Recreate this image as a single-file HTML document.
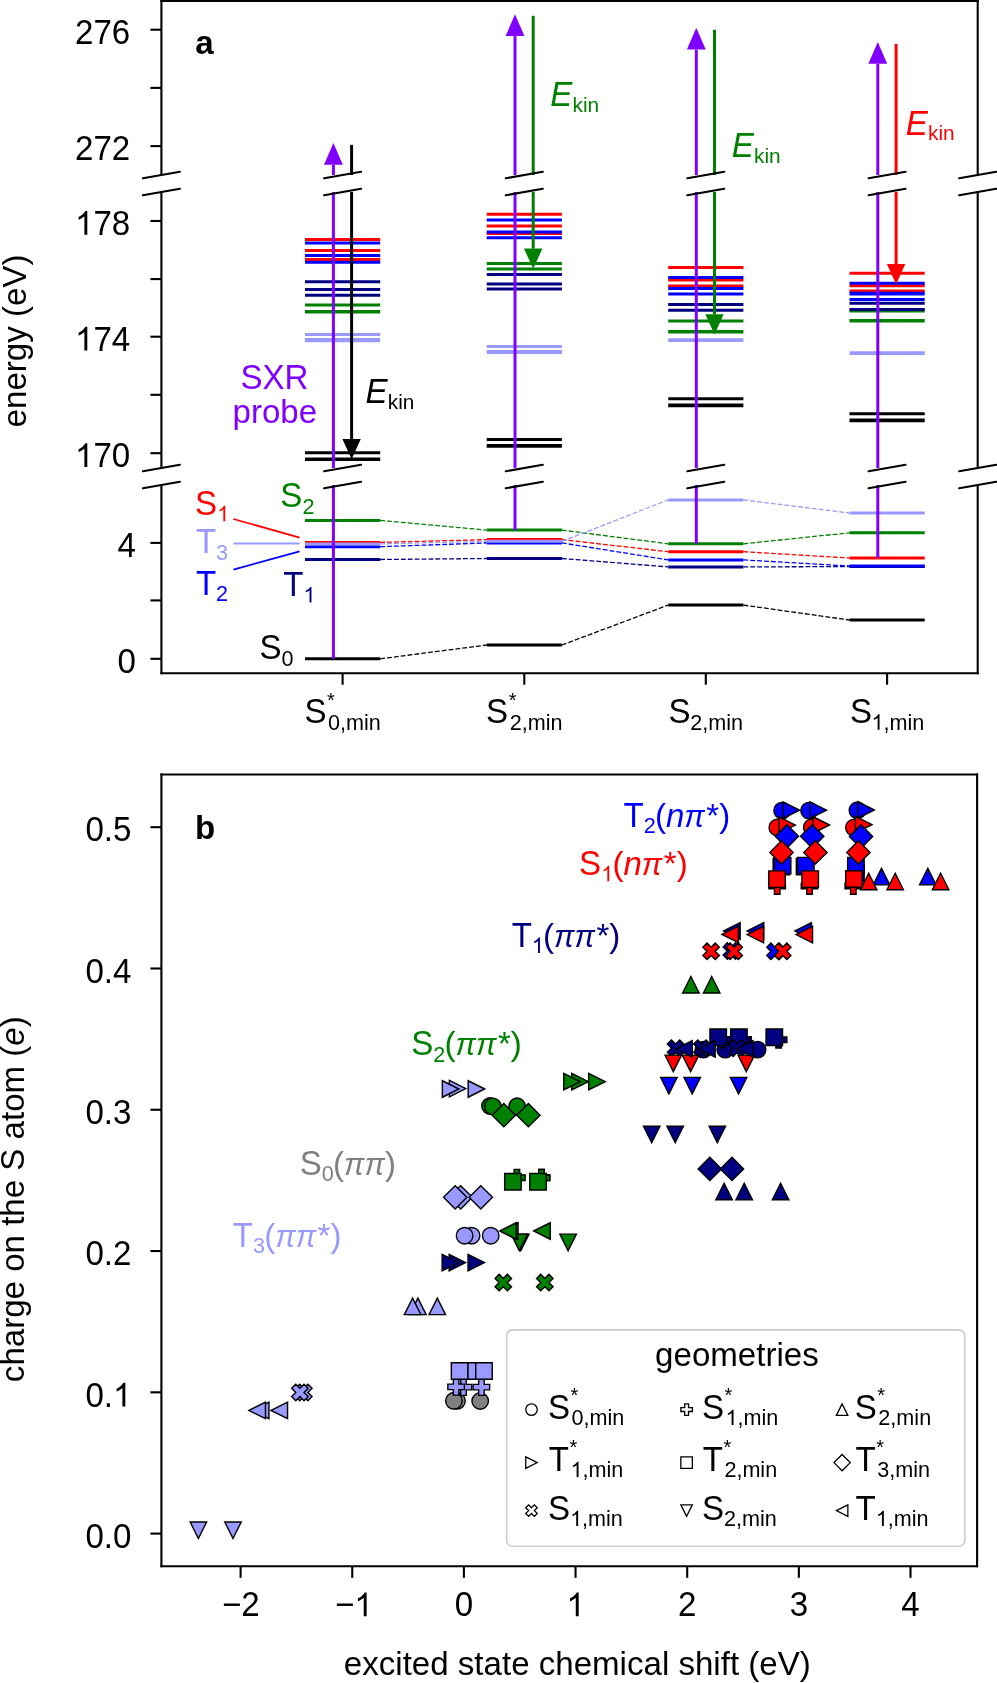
<!DOCTYPE html>
<html><head><meta charset="utf-8"><title>figure</title>
<style>
html,body{margin:0;padding:0;background:#fff;}
svg{display:block;will-change:transform;font-family:"Liberation Sans",sans-serif;font-size:33.1px;}
</style></head>
<body>
<svg width="997" height="1683" viewBox="0 0 997 1683">
<rect width="997" height="1683" fill="#fff"/>
<line x1="380.2" y1="658.8" x2="486.7" y2="645" stroke="#000000" stroke-width="1.3" stroke-dasharray="4.8,2.1"/>
<line x1="561.9" y1="645" x2="668.2" y2="605.1" stroke="#000000" stroke-width="1.3" stroke-dasharray="4.8,2.1"/>
<line x1="743.4" y1="605.1" x2="849.5" y2="620" stroke="#000000" stroke-width="1.3" stroke-dasharray="4.8,2.1"/>
<line x1="380.2" y1="559.5" x2="486.7" y2="558.5" stroke="#000080" stroke-width="1.3" stroke-dasharray="4.8,2.1"/>
<line x1="561.9" y1="558.5" x2="668.2" y2="566.9" stroke="#000080" stroke-width="1.3" stroke-dasharray="4.8,2.1"/>
<line x1="743.4" y1="566.9" x2="849.5" y2="566.6" stroke="#000080" stroke-width="1.3" stroke-dasharray="4.8,2.1"/>
<line x1="380.2" y1="542.4" x2="486.7" y2="539.6" stroke="#ff0000" stroke-width="1.3" stroke-dasharray="4.8,2.1"/>
<line x1="561.9" y1="539.6" x2="668.2" y2="551.7" stroke="#ff0000" stroke-width="1.3" stroke-dasharray="4.8,2.1"/>
<line x1="743.4" y1="551.7" x2="849.5" y2="558" stroke="#ff0000" stroke-width="1.3" stroke-dasharray="4.8,2.1"/>
<line x1="380.2" y1="520.4" x2="486.7" y2="530.1" stroke="#008000" stroke-width="1.3" stroke-dasharray="4.8,2.1"/>
<line x1="561.9" y1="530.1" x2="668.2" y2="543.8" stroke="#008000" stroke-width="1.3" stroke-dasharray="4.8,2.1"/>
<line x1="743.4" y1="543.8" x2="849.5" y2="532.8" stroke="#008000" stroke-width="1.3" stroke-dasharray="4.8,2.1"/>
<line x1="380.2" y1="546.7" x2="486.7" y2="542.9" stroke="#0000ff" stroke-width="1.3" stroke-dasharray="4.8,2.1"/>
<line x1="561.9" y1="542.9" x2="668.2" y2="559.9" stroke="#0000ff" stroke-width="1.3" stroke-dasharray="4.8,2.1"/>
<line x1="743.4" y1="559.9" x2="849.5" y2="566" stroke="#0000ff" stroke-width="1.3" stroke-dasharray="4.8,2.1"/>
<line x1="380.2" y1="543.9" x2="486.7" y2="541.3" stroke="#9999ff" stroke-width="1.3" stroke-dasharray="4.8,2.1"/>
<line x1="561.9" y1="541.3" x2="668.2" y2="499.9" stroke="#9999ff" stroke-width="1.3" stroke-dasharray="4.8,2.1"/>
<line x1="743.4" y1="499.9" x2="849.5" y2="513" stroke="#9999ff" stroke-width="1.3" stroke-dasharray="4.8,2.1"/>
<line x1="305" y1="658.8" x2="380.2" y2="658.8" stroke="#000000" stroke-width="3"/>
<line x1="486.7" y1="645" x2="561.9" y2="645" stroke="#000000" stroke-width="3"/>
<line x1="668.2" y1="605.1" x2="743.4" y2="605.1" stroke="#000000" stroke-width="3"/>
<line x1="849.5" y1="620" x2="924.7" y2="620" stroke="#000000" stroke-width="3"/>
<line x1="305" y1="559.5" x2="380.2" y2="559.5" stroke="#000080" stroke-width="3"/>
<line x1="486.7" y1="558.5" x2="561.9" y2="558.5" stroke="#000080" stroke-width="3"/>
<line x1="668.2" y1="566.9" x2="743.4" y2="566.9" stroke="#000080" stroke-width="3"/>
<line x1="849.5" y1="566.6" x2="924.7" y2="566.6" stroke="#000080" stroke-width="3"/>
<line x1="305" y1="542.4" x2="380.2" y2="542.4" stroke="#ff0000" stroke-width="3"/>
<line x1="486.7" y1="539.6" x2="561.9" y2="539.6" stroke="#ff0000" stroke-width="3"/>
<line x1="668.2" y1="551.7" x2="743.4" y2="551.7" stroke="#ff0000" stroke-width="3"/>
<line x1="849.5" y1="558" x2="924.7" y2="558" stroke="#ff0000" stroke-width="3"/>
<line x1="305" y1="520.4" x2="380.2" y2="520.4" stroke="#008000" stroke-width="3"/>
<line x1="486.7" y1="530.1" x2="561.9" y2="530.1" stroke="#008000" stroke-width="3"/>
<line x1="668.2" y1="543.8" x2="743.4" y2="543.8" stroke="#008000" stroke-width="3"/>
<line x1="849.5" y1="532.8" x2="924.7" y2="532.8" stroke="#008000" stroke-width="3"/>
<line x1="305" y1="546.7" x2="380.2" y2="546.7" stroke="#0000ff" stroke-width="3"/>
<line x1="486.7" y1="542.9" x2="561.9" y2="542.9" stroke="#0000ff" stroke-width="3"/>
<line x1="668.2" y1="559.9" x2="743.4" y2="559.9" stroke="#0000ff" stroke-width="3"/>
<line x1="849.5" y1="566" x2="924.7" y2="566" stroke="#0000ff" stroke-width="3"/>
<line x1="305" y1="543.9" x2="380.2" y2="543.9" stroke="#9999ff" stroke-width="3"/>
<line x1="486.7" y1="541.3" x2="561.9" y2="541.3" stroke="#9999ff" stroke-width="3"/>
<line x1="668.2" y1="499.9" x2="743.4" y2="499.9" stroke="#9999ff" stroke-width="3"/>
<line x1="849.5" y1="513" x2="924.7" y2="513" stroke="#9999ff" stroke-width="3"/>
<line x1="305" y1="239.6" x2="380.2" y2="239.6" stroke="#ff0000" stroke-width="3"/>
<line x1="305" y1="242.9" x2="380.2" y2="242.9" stroke="#0000ff" stroke-width="3"/>
<line x1="305" y1="250.5" x2="380.2" y2="250.5" stroke="#ff0000" stroke-width="3"/>
<line x1="305" y1="255.5" x2="380.2" y2="255.5" stroke="#0000ff" stroke-width="3"/>
<line x1="305" y1="259.4" x2="380.2" y2="259.4" stroke="#ff0000" stroke-width="3"/>
<line x1="305" y1="262.3" x2="380.2" y2="262.3" stroke="#0000ff" stroke-width="3"/>
<line x1="305" y1="281.8" x2="380.2" y2="281.8" stroke="#000080" stroke-width="3"/>
<line x1="305" y1="289.6" x2="380.2" y2="289.6" stroke="#000080" stroke-width="3"/>
<line x1="305" y1="295.3" x2="380.2" y2="295.3" stroke="#000080" stroke-width="3"/>
<line x1="305" y1="305.1" x2="380.2" y2="305.1" stroke="#008000" stroke-width="3"/>
<line x1="305" y1="311.8" x2="380.2" y2="311.8" stroke="#008000" stroke-width="3.4"/>
<line x1="305" y1="334.5" x2="380.2" y2="334.5" stroke="#9999ff" stroke-width="3"/>
<line x1="305" y1="340.2" x2="380.2" y2="340.2" stroke="#9999ff" stroke-width="4.2"/>
<line x1="305" y1="452.8" x2="380.2" y2="452.8" stroke="#000000" stroke-width="3"/>
<line x1="305" y1="459.3" x2="380.2" y2="459.3" stroke="#000000" stroke-width="3.4"/>
<line x1="486.7" y1="214.3" x2="561.9" y2="214.3" stroke="#ff0000" stroke-width="3"/>
<line x1="486.7" y1="220" x2="561.9" y2="220" stroke="#0000ff" stroke-width="3"/>
<line x1="486.7" y1="226.1" x2="561.9" y2="226.1" stroke="#ff0000" stroke-width="3"/>
<line x1="486.7" y1="233.6" x2="561.9" y2="233.6" stroke="#ff0000" stroke-width="3"/>
<line x1="486.7" y1="232.1" x2="561.9" y2="232.1" stroke="#0000ff" stroke-width="3"/>
<line x1="486.7" y1="237.8" x2="561.9" y2="237.8" stroke="#0000ff" stroke-width="3"/>
<line x1="486.7" y1="263.6" x2="561.9" y2="263.6" stroke="#008000" stroke-width="3"/>
<line x1="486.7" y1="269.1" x2="561.9" y2="269.1" stroke="#008000" stroke-width="3"/>
<line x1="486.7" y1="274.6" x2="561.9" y2="274.6" stroke="#000080" stroke-width="3"/>
<line x1="486.7" y1="284" x2="561.9" y2="284" stroke="#000080" stroke-width="3"/>
<line x1="486.7" y1="289.1" x2="561.9" y2="289.1" stroke="#000080" stroke-width="3"/>
<line x1="486.7" y1="346.4" x2="561.9" y2="346.4" stroke="#9999ff" stroke-width="3"/>
<line x1="486.7" y1="352" x2="561.9" y2="352" stroke="#9999ff" stroke-width="4.2"/>
<line x1="486.7" y1="439.5" x2="561.9" y2="439.5" stroke="#000000" stroke-width="3"/>
<line x1="486.7" y1="445.9" x2="561.9" y2="445.9" stroke="#000000" stroke-width="3.8"/>
<line x1="668.2" y1="267.4" x2="743.4" y2="267.4" stroke="#ff0000" stroke-width="3"/>
<line x1="668.2" y1="279.9" x2="743.4" y2="279.9" stroke="#ff0000" stroke-width="3"/>
<line x1="668.2" y1="277.5" x2="743.4" y2="277.5" stroke="#0000ff" stroke-width="3"/>
<line x1="668.2" y1="286" x2="743.4" y2="286" stroke="#ff0000" stroke-width="3"/>
<line x1="668.2" y1="288.4" x2="743.4" y2="288.4" stroke="#0000ff" stroke-width="3"/>
<line x1="668.2" y1="294" x2="743.4" y2="294" stroke="#0000ff" stroke-width="3"/>
<line x1="668.2" y1="304.4" x2="743.4" y2="304.4" stroke="#000080" stroke-width="3"/>
<line x1="668.2" y1="310.3" x2="743.4" y2="310.3" stroke="#000080" stroke-width="3"/>
<line x1="668.2" y1="321.1" x2="743.4" y2="321.1" stroke="#008000" stroke-width="3"/>
<line x1="668.2" y1="331.8" x2="743.4" y2="331.8" stroke="#008000" stroke-width="3.4"/>
<line x1="668.2" y1="340.1" x2="743.4" y2="340.1" stroke="#9999ff" stroke-width="3.6"/>
<line x1="668.2" y1="398.7" x2="743.4" y2="398.7" stroke="#000000" stroke-width="3"/>
<line x1="668.2" y1="405.4" x2="743.4" y2="405.4" stroke="#000000" stroke-width="3.8"/>
<line x1="849.5" y1="273.3" x2="924.7" y2="273.3" stroke="#ff0000" stroke-width="3"/>
<line x1="849.5" y1="285.7" x2="924.7" y2="285.7" stroke="#ff0000" stroke-width="3"/>
<line x1="849.5" y1="283.2" x2="924.7" y2="283.2" stroke="#0000ff" stroke-width="3"/>
<line x1="849.5" y1="291" x2="924.7" y2="291" stroke="#ff0000" stroke-width="3"/>
<line x1="849.5" y1="293.7" x2="924.7" y2="293.7" stroke="#0000ff" stroke-width="3.8"/>
<line x1="849.5" y1="299.6" x2="924.7" y2="299.6" stroke="#0000ff" stroke-width="3"/>
<line x1="849.5" y1="311" x2="924.7" y2="311" stroke="#008000" stroke-width="3"/>
<line x1="849.5" y1="303.3" x2="924.7" y2="303.3" stroke="#000080" stroke-width="3"/>
<line x1="849.5" y1="309.5" x2="924.7" y2="309.5" stroke="#000080" stroke-width="3"/>
<line x1="849.5" y1="320.7" x2="924.7" y2="320.7" stroke="#008000" stroke-width="3.4"/>
<line x1="849.5" y1="353.1" x2="924.7" y2="353.1" stroke="#9999ff" stroke-width="3.6"/>
<line x1="849.5" y1="413.7" x2="924.7" y2="413.7" stroke="#000000" stroke-width="3"/>
<line x1="849.5" y1="420.4" x2="924.7" y2="420.4" stroke="#000000" stroke-width="3.8"/>
<text transform="translate(195.1,514.8) scale(1,1.035)" fill="#ff0000">S</text>
<path transform="translate(217.18,521.3) scale(0.01055,-0.01055)" d="M763 0L583 0L583 1147Q518 1085 412.5 1023Q307 961 223 930L223 1104Q374 1175 480.5 1270Q587 1365 647 1466L763 1466Z" fill="#ff0000"/>
<text transform="translate(195.9,553) scale(1,1.035)" fill="#9999ff">T</text>
<text transform="translate(216.12,559.5) scale(1,1.035)" fill="#9999ff" font-size="21.6">3</text>
<text transform="translate(195.9,594.5) scale(1,1.035)" fill="#0000ff">T</text>
<text transform="translate(216.12,601) scale(1,1.035)" fill="#0000ff" font-size="21.6">2</text>
<text transform="translate(280.3,507.1) scale(1,1.035)" fill="#008000">S</text>
<text transform="translate(302.38,513.6) scale(1,1.035)" fill="#008000" font-size="21.6">2</text>
<text transform="translate(283.2,595.9) scale(1,1.035)" fill="#000080">T</text>
<path transform="translate(303.42,602.4) scale(0.01055,-0.01055)" d="M763 0L583 0L583 1147Q518 1085 412.5 1023Q307 961 223 930L223 1104Q374 1175 480.5 1270Q587 1365 647 1466L763 1466Z" fill="#000080"/>
<text transform="translate(259.5,659.2) scale(1,1.035)">S</text>
<text transform="translate(281.58,665.7) scale(1,1.035)" font-size="21.6">0</text>
<line x1="233.4" y1="519" x2="299.6" y2="537.6" stroke="#ff0000" stroke-width="1.8"/>
<line x1="233.4" y1="543.5" x2="299.6" y2="543.5" stroke="#9999ff" stroke-width="1.8"/>
<line x1="233.4" y1="569.6" x2="299.6" y2="551.3" stroke="#0000ff" stroke-width="1.8"/>
<line x1="333.4" y1="164.8" x2="333.4" y2="175" stroke="#8000ff" stroke-width="3"/>
<line x1="333.4" y1="192" x2="333.4" y2="468" stroke="#8000ff" stroke-width="3"/>
<line x1="333.4" y1="485" x2="333.4" y2="658.8" stroke="#8000ff" stroke-width="3"/>
<polygon points="333.4,143 324,164.8 342.8,164.8" fill="#8000ff" stroke="none" stroke-width="0" stroke-linejoin="miter"/>
<line x1="515" y1="36.1" x2="515" y2="175" stroke="#8000ff" stroke-width="3"/>
<line x1="515" y1="192" x2="515" y2="468" stroke="#8000ff" stroke-width="3"/>
<line x1="515" y1="485" x2="515" y2="530.1" stroke="#8000ff" stroke-width="3"/>
<polygon points="515,14.3 505.6,36.1 524.4,36.1" fill="#8000ff" stroke="none" stroke-width="0" stroke-linejoin="miter"/>
<line x1="696.3" y1="49.6" x2="696.3" y2="175" stroke="#8000ff" stroke-width="3"/>
<line x1="696.3" y1="192" x2="696.3" y2="468" stroke="#8000ff" stroke-width="3"/>
<line x1="696.3" y1="485" x2="696.3" y2="543.8" stroke="#8000ff" stroke-width="3"/>
<polygon points="696.3,27.8 686.9,49.6 705.7,49.6" fill="#8000ff" stroke="none" stroke-width="0" stroke-linejoin="miter"/>
<line x1="877.8" y1="63.7" x2="877.8" y2="175" stroke="#8000ff" stroke-width="3"/>
<line x1="877.8" y1="192" x2="877.8" y2="468" stroke="#8000ff" stroke-width="3"/>
<line x1="877.8" y1="485" x2="877.8" y2="558" stroke="#8000ff" stroke-width="3"/>
<polygon points="877.8,41.9 868.4,63.7 887.2,63.7" fill="#8000ff" stroke="none" stroke-width="0" stroke-linejoin="miter"/>
<line x1="351.6" y1="144.9" x2="351.6" y2="175" stroke="#000000" stroke-width="3"/>
<line x1="351.6" y1="192" x2="351.6" y2="439.1" stroke="#000000" stroke-width="3"/>
<polygon points="351.6,459.3 342.4,439.1 360.8,439.1" fill="#000000" stroke="none" stroke-width="0" stroke-linejoin="miter"/>
<line x1="533.2" y1="15.8" x2="533.2" y2="175" stroke="#008000" stroke-width="3"/>
<line x1="533.2" y1="192" x2="533.2" y2="248.6" stroke="#008000" stroke-width="3"/>
<polygon points="533.2,268.8 524,248.6 542.4,248.6" fill="#008000" stroke="none" stroke-width="0" stroke-linejoin="miter"/>
<line x1="714.5" y1="29.8" x2="714.5" y2="175" stroke="#008000" stroke-width="3"/>
<line x1="714.5" y1="192" x2="714.5" y2="314.3" stroke="#008000" stroke-width="3"/>
<polygon points="714.5,334.5 705.3,314.3 723.7,314.3" fill="#008000" stroke="none" stroke-width="0" stroke-linejoin="miter"/>
<line x1="896.1" y1="43.9" x2="896.1" y2="175" stroke="#ff0000" stroke-width="3"/>
<line x1="896.1" y1="192" x2="896.1" y2="264.1" stroke="#ff0000" stroke-width="3"/>
<polygon points="896.1,284.3 886.9,264.1 905.3,264.1" fill="#ff0000" stroke="none" stroke-width="0" stroke-linejoin="miter"/>
<text transform="translate(365.38,402.7) scale(1,1.035)" font-style="italic">E</text>
<text x="387.76" y="408.5" font-size="20.8">kin</text>
<text transform="translate(550.18,106) scale(1,1.035)" font-style="italic" fill="#008000">E</text>
<text x="572.56" y="111.8" fill="#008000" font-size="20.8">kin</text>
<text transform="translate(731.68,157.2) scale(1,1.035)" font-style="italic" fill="#008000">E</text>
<text x="754.06" y="163" fill="#008000" font-size="20.8">kin</text>
<text transform="translate(905.68,134.5) scale(1,1.035)" font-style="italic" fill="#ff0000">E</text>
<text x="928.06" y="140.3" fill="#ff0000" font-size="20.8">kin</text>
<text transform="translate(274.5,389.4) scale(1,1.035)" text-anchor="middle" fill="#8000ff">SXR</text>
<text x="274.8" y="422.8" text-anchor="middle" fill="#8000ff">probe</text>
<line x1="161.4" y1="0" x2="161.4" y2="175" stroke="#000000" stroke-width="2.1"/>
<line x1="977.7" y1="0" x2="977.7" y2="175" stroke="#000000" stroke-width="2.1"/>
<line x1="161.4" y1="192" x2="161.4" y2="468" stroke="#000000" stroke-width="2.1"/>
<line x1="977.7" y1="192" x2="977.7" y2="468" stroke="#000000" stroke-width="2.1"/>
<line x1="161.4" y1="485" x2="161.4" y2="674.2" stroke="#000000" stroke-width="2.1"/>
<line x1="977.7" y1="485" x2="977.7" y2="674.2" stroke="#000000" stroke-width="2.1"/>
<line x1="160.4" y1="1" x2="978.7" y2="1" stroke="#000000" stroke-width="2.1"/>
<line x1="160.4" y1="673.2" x2="978.7" y2="673.2" stroke="#000000" stroke-width="2.1"/>
<line x1="142.9" y1="178.2" x2="179.9" y2="171.8" stroke="#000000" stroke-width="2.1" stroke-linecap="round"/>
<line x1="142.9" y1="195.2" x2="179.9" y2="188.8" stroke="#000000" stroke-width="2.1" stroke-linecap="round"/>
<line x1="142.9" y1="471.2" x2="179.9" y2="464.8" stroke="#000000" stroke-width="2.1" stroke-linecap="round"/>
<line x1="142.9" y1="488.2" x2="179.9" y2="481.8" stroke="#000000" stroke-width="2.1" stroke-linecap="round"/>
<line x1="324.1" y1="178.2" x2="361.1" y2="171.8" stroke="#000000" stroke-width="2.1" stroke-linecap="round"/>
<line x1="324.1" y1="195.2" x2="361.1" y2="188.8" stroke="#000000" stroke-width="2.1" stroke-linecap="round"/>
<line x1="324.1" y1="471.2" x2="361.1" y2="464.8" stroke="#000000" stroke-width="2.1" stroke-linecap="round"/>
<line x1="324.1" y1="488.2" x2="361.1" y2="481.8" stroke="#000000" stroke-width="2.1" stroke-linecap="round"/>
<line x1="505.8" y1="178.2" x2="542.8" y2="171.8" stroke="#000000" stroke-width="2.1" stroke-linecap="round"/>
<line x1="505.8" y1="195.2" x2="542.8" y2="188.8" stroke="#000000" stroke-width="2.1" stroke-linecap="round"/>
<line x1="505.8" y1="471.2" x2="542.8" y2="464.8" stroke="#000000" stroke-width="2.1" stroke-linecap="round"/>
<line x1="505.8" y1="488.2" x2="542.8" y2="481.8" stroke="#000000" stroke-width="2.1" stroke-linecap="round"/>
<line x1="687.3" y1="178.2" x2="724.3" y2="171.8" stroke="#000000" stroke-width="2.1" stroke-linecap="round"/>
<line x1="687.3" y1="195.2" x2="724.3" y2="188.8" stroke="#000000" stroke-width="2.1" stroke-linecap="round"/>
<line x1="687.3" y1="471.2" x2="724.3" y2="464.8" stroke="#000000" stroke-width="2.1" stroke-linecap="round"/>
<line x1="687.3" y1="488.2" x2="724.3" y2="481.8" stroke="#000000" stroke-width="2.1" stroke-linecap="round"/>
<line x1="868.6" y1="178.2" x2="905.6" y2="171.8" stroke="#000000" stroke-width="2.1" stroke-linecap="round"/>
<line x1="868.6" y1="195.2" x2="905.6" y2="188.8" stroke="#000000" stroke-width="2.1" stroke-linecap="round"/>
<line x1="868.6" y1="471.2" x2="905.6" y2="464.8" stroke="#000000" stroke-width="2.1" stroke-linecap="round"/>
<line x1="868.6" y1="488.2" x2="905.6" y2="481.8" stroke="#000000" stroke-width="2.1" stroke-linecap="round"/>
<line x1="959.2" y1="178.2" x2="996.2" y2="171.8" stroke="#000000" stroke-width="2.1" stroke-linecap="round"/>
<line x1="959.2" y1="195.2" x2="996.2" y2="188.8" stroke="#000000" stroke-width="2.1" stroke-linecap="round"/>
<line x1="959.2" y1="471.2" x2="996.2" y2="464.8" stroke="#000000" stroke-width="2.1" stroke-linecap="round"/>
<line x1="959.2" y1="488.2" x2="996.2" y2="481.8" stroke="#000000" stroke-width="2.1" stroke-linecap="round"/>
<line x1="150.4" y1="29.7" x2="161.4" y2="29.7" stroke="#000000" stroke-width="2.1"/>
<text transform="translate(130.2,43.5) scale(1,1.035)" text-anchor="end">276</text>
<line x1="150.4" y1="87.9" x2="161.4" y2="87.9" stroke="#000000" stroke-width="2.1"/>
<line x1="150.4" y1="146.1" x2="161.4" y2="146.1" stroke="#000000" stroke-width="2.1"/>
<text transform="translate(130.2,159.9) scale(1,1.035)" text-anchor="end">272</text>
<line x1="150.4" y1="221" x2="161.4" y2="221" stroke="#000000" stroke-width="2.1"/>
<path transform="translate(74.97,234.8) scale(0.01616,-0.01616)" d="M763 0L583 0L583 1147Q518 1085 412.5 1023Q307 961 223 930L223 1104Q374 1175 480.5 1270Q587 1365 647 1466L763 1466Z" fill="#000000"/>
<text transform="translate(93.38,234.8) scale(1,1.035)">78</text>
<line x1="150.4" y1="279.1" x2="161.4" y2="279.1" stroke="#000000" stroke-width="2.1"/>
<line x1="150.4" y1="336.7" x2="161.4" y2="336.7" stroke="#000000" stroke-width="2.1"/>
<path transform="translate(74.97,350.5) scale(0.01616,-0.01616)" d="M763 0L583 0L583 1147Q518 1085 412.5 1023Q307 961 223 930L223 1104Q374 1175 480.5 1270Q587 1365 647 1466L763 1466Z" fill="#000000"/>
<text transform="translate(93.38,350.5) scale(1,1.035)">74</text>
<line x1="150.4" y1="394.8" x2="161.4" y2="394.8" stroke="#000000" stroke-width="2.1"/>
<line x1="150.4" y1="453.2" x2="161.4" y2="453.2" stroke="#000000" stroke-width="2.1"/>
<path transform="translate(74.97,467) scale(0.01616,-0.01616)" d="M763 0L583 0L583 1147Q518 1085 412.5 1023Q307 961 223 930L223 1104Q374 1175 480.5 1270Q587 1365 647 1466L763 1466Z" fill="#000000"/>
<text transform="translate(93.38,467) scale(1,1.035)">70</text>
<line x1="150.4" y1="542.9" x2="161.4" y2="542.9" stroke="#000000" stroke-width="2.1"/>
<text transform="translate(136,557) scale(1,1.035)" text-anchor="end">4</text>
<line x1="150.4" y1="600.4" x2="161.4" y2="600.4" stroke="#000000" stroke-width="2.1"/>
<line x1="150.4" y1="658.8" x2="161.4" y2="658.8" stroke="#000000" stroke-width="2.1"/>
<text transform="translate(136,672.9) scale(1,1.035)" text-anchor="end">0</text>
<line x1="342.6" y1="673.2" x2="342.6" y2="684.7" stroke="#000000" stroke-width="2.1"/>
<line x1="524.3" y1="673.2" x2="524.3" y2="684.7" stroke="#000000" stroke-width="2.1"/>
<line x1="705.8" y1="673.2" x2="705.8" y2="684.7" stroke="#000000" stroke-width="2.1"/>
<line x1="887.1" y1="673.2" x2="887.1" y2="684.7" stroke="#000000" stroke-width="2.1"/>
<text transform="translate(304.4,723.3) scale(1,1.035)">S</text>
<text x="326.98" y="707" font-size="20">*</text>
<text x="327.98" y="729.8" font-size="21.6">0,min</text>
<text transform="translate(486.1,723.3) scale(1,1.035)">S</text>
<text x="508.68" y="707" font-size="20">*</text>
<text x="509.68" y="729.8" font-size="21.6">2,min</text>
<text transform="translate(668.6,723.3) scale(1,1.035)">S</text>
<text x="690.18" y="729.8" font-size="21.6">2,min</text>
<text transform="translate(849.9,723.3) scale(1,1.035)">S</text>
<path transform="translate(871.48,729.8) scale(0.01055,-0.01055)" d="M763 0L583 0L583 1147Q518 1085 412.5 1023Q307 961 223 930L223 1104Q374 1175 480.5 1270Q587 1365 647 1466L763 1466Z" fill="#000000"/>
<text x="883.49" y="729.8" font-size="21.6">,min</text>
<text x="195.23" y="54.3" font-weight="bold">a</text>
<text transform="translate(25.6,341) rotate(-90)" text-anchor="middle">energy (eV)</text>
<circle cx="457" cy="1400.8" r="8.25" fill="#808080" stroke="#000000" stroke-width="1.4"/>
<circle cx="480.2" cy="1401" r="8.25" fill="#808080" stroke="#000000" stroke-width="1.4"/>
<circle cx="453.9" cy="1400.8" r="8.25" fill="#808080" stroke="#000000" stroke-width="1.4"/>
<circle cx="471.6" cy="1235.7" r="8.25" fill="#9999ff" stroke="#000000" stroke-width="1.4"/>
<circle cx="490.7" cy="1235.7" r="8.25" fill="#9999ff" stroke="#000000" stroke-width="1.4"/>
<circle cx="464.6" cy="1235.7" r="8.25" fill="#9999ff" stroke="#000000" stroke-width="1.4"/>
<circle cx="490" cy="1106" r="8.25" fill="#008000" stroke="#000000" stroke-width="1.4"/>
<circle cx="517.1" cy="1106.3" r="8.25" fill="#008000" stroke="#000000" stroke-width="1.4"/>
<circle cx="492.8" cy="1106.4" r="8.25" fill="#008000" stroke="#000000" stroke-width="1.4"/>
<circle cx="703.4" cy="1049.6" r="8.25" fill="#000080" stroke="#000000" stroke-width="1.4"/>
<circle cx="725.2" cy="1049.6" r="8.25" fill="#000080" stroke="#000000" stroke-width="1.4"/>
<circle cx="757.6" cy="1049.6" r="8.25" fill="#000080" stroke="#000000" stroke-width="1.4"/>
<circle cx="782.1" cy="810.6" r="8.25" fill="#0000ff" stroke="#000000" stroke-width="1.4"/>
<circle cx="809.1" cy="810.6" r="8.25" fill="#0000ff" stroke="#000000" stroke-width="1.4"/>
<circle cx="857.4" cy="810.3" r="8.25" fill="#0000ff" stroke="#000000" stroke-width="1.4"/>
<circle cx="777.3" cy="827.5" r="8.25" fill="#ff0000" stroke="#000000" stroke-width="1.4"/>
<circle cx="811.8" cy="827.3" r="8.25" fill="#ff0000" stroke="#000000" stroke-width="1.4"/>
<circle cx="853.9" cy="827.6" r="8.25" fill="#ff0000" stroke="#000000" stroke-width="1.4"/>
<polygon points="460.75,1378.85 460.75,1384.35 455.25,1384.35 455.25,1389.85 460.75,1389.85 460.75,1395.35 466.25,1395.35 466.25,1389.85 471.75,1389.85 471.75,1384.35 466.25,1384.35 466.25,1378.85" fill="#9999ff" stroke="#000000" stroke-width="1.4" stroke-linejoin="miter"/>
<polygon points="478.65,1378.85 478.65,1384.35 473.15,1384.35 473.15,1389.85 478.65,1389.85 478.65,1395.35 484.15,1395.35 484.15,1389.85 489.65,1389.85 489.65,1384.35 484.15,1384.35 484.15,1378.85" fill="#9999ff" stroke="#000000" stroke-width="1.4" stroke-linejoin="miter"/>
<polygon points="453.35,1378.65 453.35,1384.15 447.85,1384.15 447.85,1389.65 453.35,1389.65 453.35,1395.15 458.85,1395.15 458.85,1389.65 464.35,1389.65 464.35,1384.15 458.85,1384.15 458.85,1378.65" fill="#9999ff" stroke="#000000" stroke-width="1.4" stroke-linejoin="miter"/>
<polygon points="514.15,1169.45 514.15,1174.95 508.65,1174.95 508.65,1180.45 514.15,1180.45 514.15,1185.95 519.65,1185.95 519.65,1180.45 525.15,1180.45 525.15,1174.95 519.65,1174.95 519.65,1169.45" fill="#008000" stroke="#000000" stroke-width="1.4" stroke-linejoin="miter"/>
<polygon points="538.75,1169.45 538.75,1174.95 533.25,1174.95 533.25,1180.45 538.75,1180.45 538.75,1185.95 544.25,1185.95 544.25,1180.45 549.75,1180.45 549.75,1174.95 544.25,1174.95 544.25,1169.45" fill="#008000" stroke="#000000" stroke-width="1.4" stroke-linejoin="miter"/>
<polygon points="538.75,1169.45 538.75,1174.95 533.25,1174.95 533.25,1180.45 538.75,1180.45 538.75,1185.95 544.25,1185.95 544.25,1180.45 549.75,1180.45 549.75,1174.95 544.25,1174.95 544.25,1169.45" fill="#008000" stroke="#000000" stroke-width="1.4" stroke-linejoin="miter"/>
<polygon points="720.25,1031.25 720.25,1036.75 714.75,1036.75 714.75,1042.25 720.25,1042.25 720.25,1047.75 725.75,1047.75 725.75,1042.25 731.25,1042.25 731.25,1036.75 725.75,1036.75 725.75,1031.25" fill="#000080" stroke="#000000" stroke-width="1.4" stroke-linejoin="miter"/>
<polygon points="740.25,1031.25 740.25,1036.75 734.75,1036.75 734.75,1042.25 740.25,1042.25 740.25,1047.75 745.75,1047.75 745.75,1042.25 751.25,1042.25 751.25,1036.75 745.75,1036.75 745.75,1031.25" fill="#000080" stroke="#000000" stroke-width="1.4" stroke-linejoin="miter"/>
<polygon points="775.85,1031.45 775.85,1036.95 770.35,1036.95 770.35,1042.45 775.85,1042.45 775.85,1047.95 781.35,1047.95 781.35,1042.45 786.85,1042.45 786.85,1036.95 781.35,1036.95 781.35,1031.45" fill="#000080" stroke="#000000" stroke-width="1.4" stroke-linejoin="miter"/>
<polygon points="774.45,877.75 774.45,883.25 768.95,883.25 768.95,888.75 774.45,888.75 774.45,894.25 779.95,894.25 779.95,888.75 785.45,888.75 785.45,883.25 779.95,883.25 779.95,877.75" fill="#ff0000" stroke="#000000" stroke-width="1.4" stroke-linejoin="miter"/>
<polygon points="806.75,877.75 806.75,883.25 801.25,883.25 801.25,888.75 806.75,888.75 806.75,894.25 812.25,894.25 812.25,888.75 817.75,888.75 817.75,883.25 812.25,883.25 812.25,877.75" fill="#ff0000" stroke="#000000" stroke-width="1.4" stroke-linejoin="miter"/>
<polygon points="850.55,877.75 850.55,883.25 845.05,883.25 845.05,888.75 850.55,888.75 850.55,894.25 856.05,894.25 856.05,888.75 861.55,888.75 861.55,883.25 856.05,883.25 856.05,877.75" fill="#ff0000" stroke="#000000" stroke-width="1.4" stroke-linejoin="miter"/>
<polygon points="417.9,1298.15 409.65,1314.65 426.15,1314.65" fill="#9999ff" stroke="#000000" stroke-width="1.4" stroke-linejoin="miter"/>
<polygon points="437.3,1298.15 429.05,1314.65 445.55,1314.65" fill="#9999ff" stroke="#000000" stroke-width="1.4" stroke-linejoin="miter"/>
<polygon points="412.6,1298.15 404.35,1314.65 420.85,1314.65" fill="#9999ff" stroke="#000000" stroke-width="1.4" stroke-linejoin="miter"/>
<polygon points="690.9,976.45 682.65,992.95 699.15,992.95" fill="#008000" stroke="#000000" stroke-width="1.4" stroke-linejoin="miter"/>
<polygon points="711.7,976.45 703.45,992.95 719.95,992.95" fill="#008000" stroke="#000000" stroke-width="1.4" stroke-linejoin="miter"/>
<polygon points="724.1,1183.25 715.85,1199.75 732.35,1199.75" fill="#000080" stroke="#000000" stroke-width="1.4" stroke-linejoin="miter"/>
<polygon points="744.2,1183.25 735.95,1199.75 752.45,1199.75" fill="#000080" stroke="#000000" stroke-width="1.4" stroke-linejoin="miter"/>
<polygon points="780.6,1183.25 772.35,1199.75 788.85,1199.75" fill="#000080" stroke="#000000" stroke-width="1.4" stroke-linejoin="miter"/>
<polygon points="881.5,868.35 873.25,884.85 889.75,884.85" fill="#0000ff" stroke="#000000" stroke-width="1.4" stroke-linejoin="miter"/>
<polygon points="927.8,868.35 919.55,884.85 936.05,884.85" fill="#0000ff" stroke="#000000" stroke-width="1.4" stroke-linejoin="miter"/>
<polygon points="868.7,873.25 860.45,889.75 876.95,889.75" fill="#ff0000" stroke="#000000" stroke-width="1.4" stroke-linejoin="miter"/>
<polygon points="895.2,873.25 886.95,889.75 903.45,889.75" fill="#ff0000" stroke="#000000" stroke-width="1.4" stroke-linejoin="miter"/>
<polygon points="940.6,873.25 932.35,889.75 948.85,889.75" fill="#ff0000" stroke="#000000" stroke-width="1.4" stroke-linejoin="miter"/>
<polygon points="465.85,1088.6 449.35,1080.35 449.35,1096.85" fill="#9999ff" stroke="#000000" stroke-width="1.4" stroke-linejoin="miter"/>
<polygon points="484.65,1089 468.15,1080.75 468.15,1097.25" fill="#9999ff" stroke="#000000" stroke-width="1.4" stroke-linejoin="miter"/>
<polygon points="458.85,1089 442.35,1080.75 442.35,1097.25" fill="#9999ff" stroke="#000000" stroke-width="1.4" stroke-linejoin="miter"/>
<polygon points="588.25,1081.7 571.75,1073.45 571.75,1089.95" fill="#008000" stroke="#000000" stroke-width="1.4" stroke-linejoin="miter"/>
<polygon points="605.15,1081.7 588.65,1073.45 588.65,1089.95" fill="#008000" stroke="#000000" stroke-width="1.4" stroke-linejoin="miter"/>
<polygon points="580.25,1081.7 563.75,1073.45 563.75,1089.95" fill="#008000" stroke="#000000" stroke-width="1.4" stroke-linejoin="miter"/>
<polygon points="465.65,1262.6 449.15,1254.35 449.15,1270.85" fill="#000080" stroke="#000000" stroke-width="1.4" stroke-linejoin="miter"/>
<polygon points="484.55,1262.6 468.05,1254.35 468.05,1270.85" fill="#000080" stroke="#000000" stroke-width="1.4" stroke-linejoin="miter"/>
<polygon points="458.65,1262.6 442.15,1254.35 442.15,1270.85" fill="#000080" stroke="#000000" stroke-width="1.4" stroke-linejoin="miter"/>
<polygon points="799.55,810.2 783.05,801.95 783.05,818.45" fill="#0000ff" stroke="#000000" stroke-width="1.4" stroke-linejoin="miter"/>
<polygon points="826.45,810.2 809.95,801.95 809.95,818.45" fill="#0000ff" stroke="#000000" stroke-width="1.4" stroke-linejoin="miter"/>
<polygon points="874.25,810 857.75,801.75 857.75,818.25" fill="#0000ff" stroke="#000000" stroke-width="1.4" stroke-linejoin="miter"/>
<polygon points="795.45,825.1 778.95,816.85 778.95,833.35" fill="#ff0000" stroke="#000000" stroke-width="1.4" stroke-linejoin="miter"/>
<polygon points="829.55,825 813.05,816.75 813.05,833.25" fill="#ff0000" stroke="#000000" stroke-width="1.4" stroke-linejoin="miter"/>
<polygon points="871.95,824.7 855.45,816.45 855.45,832.95" fill="#ff0000" stroke="#000000" stroke-width="1.4" stroke-linejoin="miter"/>
<polygon points="467.65,1362.75 484.15,1362.75 484.15,1379.25 467.65,1379.25" fill="#9999ff" stroke="#000000" stroke-width="1.4" stroke-linejoin="miter"/>
<polygon points="475.75,1362.75 492.25,1362.75 492.25,1379.25 475.75,1379.25" fill="#9999ff" stroke="#000000" stroke-width="1.4" stroke-linejoin="miter"/>
<polygon points="451.35,1362.75 467.85,1362.75 467.85,1379.25 451.35,1379.25" fill="#9999ff" stroke="#000000" stroke-width="1.4" stroke-linejoin="miter"/>
<polygon points="504.65,1173.45 521.15,1173.45 521.15,1189.95 504.65,1189.95" fill="#008000" stroke="#000000" stroke-width="1.4" stroke-linejoin="miter"/>
<polygon points="529.75,1173.45 546.25,1173.45 546.25,1189.95 529.75,1189.95" fill="#008000" stroke="#000000" stroke-width="1.4" stroke-linejoin="miter"/>
<polygon points="709.95,1028.95 726.45,1028.95 726.45,1045.45 709.95,1045.45" fill="#000080" stroke="#000000" stroke-width="1.4" stroke-linejoin="miter"/>
<polygon points="730.65,1028.95 747.15,1028.95 747.15,1045.45 730.65,1045.45" fill="#000080" stroke="#000000" stroke-width="1.4" stroke-linejoin="miter"/>
<polygon points="766.05,1028.95 782.55,1028.95 782.55,1045.45 766.05,1045.45" fill="#000080" stroke="#000000" stroke-width="1.4" stroke-linejoin="miter"/>
<polygon points="847.65,865.15 864.15,865.15 864.15,881.65 847.65,881.65" fill="#0000ff" stroke="#000000" stroke-width="1.4" stroke-linejoin="miter"/>
<polygon points="773.15,858.35 789.65,858.35 789.65,874.85 773.15,874.85" fill="#0000ff" stroke="#000000" stroke-width="1.4" stroke-linejoin="miter"/>
<polygon points="796.35,858.35 812.85,858.35 812.85,874.85 796.35,874.85" fill="#0000ff" stroke="#000000" stroke-width="1.4" stroke-linejoin="miter"/>
<polygon points="774.35,857.35 790.85,857.35 790.85,873.85 774.35,873.85" fill="#0000ff" stroke="#000000" stroke-width="1.4" stroke-linejoin="miter"/>
<polygon points="797.55,857.35 814.05,857.35 814.05,873.85 797.55,873.85" fill="#0000ff" stroke="#000000" stroke-width="1.4" stroke-linejoin="miter"/>
<polygon points="847.65,857.55 864.15,857.55 864.15,874.05 847.65,874.05" fill="#0000ff" stroke="#000000" stroke-width="1.4" stroke-linejoin="miter"/>
<polygon points="768.75,870.85 785.25,870.85 785.25,887.35 768.75,887.35" fill="#ff0000" stroke="#000000" stroke-width="1.4" stroke-linejoin="miter"/>
<polygon points="801.95,870.85 818.45,870.85 818.45,887.35 801.95,887.35" fill="#ff0000" stroke="#000000" stroke-width="1.4" stroke-linejoin="miter"/>
<polygon points="845.65,870.75 862.15,870.75 862.15,887.25 845.65,887.25" fill="#ff0000" stroke="#000000" stroke-width="1.4" stroke-linejoin="miter"/>
<polygon points="460.7,1185.63 472.37,1197.3 460.7,1208.97 449.03,1197.3" fill="#9999ff" stroke="#000000" stroke-width="1.4" stroke-linejoin="miter"/>
<polygon points="480.8,1185.63 492.47,1197.3 480.8,1208.97 469.13,1197.3" fill="#9999ff" stroke="#000000" stroke-width="1.4" stroke-linejoin="miter"/>
<polygon points="455.2,1185.63 466.87,1197.3 455.2,1208.97 443.53,1197.3" fill="#9999ff" stroke="#000000" stroke-width="1.4" stroke-linejoin="miter"/>
<polygon points="503.8,1103.53 515.47,1115.2 503.8,1126.87 492.13,1115.2" fill="#008000" stroke="#000000" stroke-width="1.4" stroke-linejoin="miter"/>
<polygon points="528.4,1103.53 540.07,1115.2 528.4,1126.87 516.73,1115.2" fill="#008000" stroke="#000000" stroke-width="1.4" stroke-linejoin="miter"/>
<polygon points="709.8,1157.23 721.47,1168.9 709.8,1180.57 698.13,1168.9" fill="#000080" stroke="#000000" stroke-width="1.4" stroke-linejoin="miter"/>
<polygon points="732,1157.23 743.67,1168.9 732,1180.57 720.33,1168.9" fill="#000080" stroke="#000000" stroke-width="1.4" stroke-linejoin="miter"/>
<polygon points="786.9,824.63 798.57,836.3 786.9,847.97 775.23,836.3" fill="#0000ff" stroke="#000000" stroke-width="1.4" stroke-linejoin="miter"/>
<polygon points="812.2,824.63 823.87,836.3 812.2,847.97 800.53,836.3" fill="#0000ff" stroke="#000000" stroke-width="1.4" stroke-linejoin="miter"/>
<polygon points="861,824.83 872.67,836.5 861,848.17 849.33,836.5" fill="#0000ff" stroke="#000000" stroke-width="1.4" stroke-linejoin="miter"/>
<polygon points="781.5,840.73 793.17,852.4 781.5,864.07 769.83,852.4" fill="#ff0000" stroke="#000000" stroke-width="1.4" stroke-linejoin="miter"/>
<polygon points="815.4,840.73 827.07,852.4 815.4,864.07 803.73,852.4" fill="#ff0000" stroke="#000000" stroke-width="1.4" stroke-linejoin="miter"/>
<polygon points="858.4,840.73 870.07,852.4 858.4,864.07 846.73,852.4" fill="#ff0000" stroke="#000000" stroke-width="1.4" stroke-linejoin="miter"/>
<polygon points="299.68,1384.15 303.8,1388.28 307.93,1384.15 312.05,1388.28 307.93,1392.4 312.05,1396.53 307.93,1400.65 303.8,1396.53 299.68,1400.65 295.55,1396.53 299.68,1392.4 295.55,1388.28" fill="#9999ff" stroke="#000000" stroke-width="1.4" stroke-linejoin="miter"/>
<polygon points="295.77,1384.15 299.9,1388.28 304.02,1384.15 308.15,1388.28 304.02,1392.4 308.15,1396.53 304.02,1400.65 299.9,1396.53 295.77,1400.65 291.65,1396.53 295.77,1392.4 291.65,1388.28" fill="#9999ff" stroke="#000000" stroke-width="1.4" stroke-linejoin="miter"/>
<polygon points="499.18,1274.35 503.3,1278.47 507.43,1274.35 511.55,1278.47 507.43,1282.6 511.55,1286.72 507.43,1290.85 503.3,1286.72 499.18,1290.85 495.05,1286.72 499.18,1282.6 495.05,1278.47" fill="#008000" stroke="#000000" stroke-width="1.4" stroke-linejoin="miter"/>
<polygon points="540.67,1274.35 544.8,1278.47 548.92,1274.35 553.05,1278.47 548.92,1282.6 553.05,1286.72 548.92,1290.85 544.8,1286.72 540.67,1290.85 536.55,1286.72 540.67,1282.6 536.55,1278.47" fill="#008000" stroke="#000000" stroke-width="1.4" stroke-linejoin="miter"/>
<polygon points="671.48,1039.95 675.6,1044.08 679.73,1039.95 683.85,1044.08 679.73,1048.2 683.85,1052.33 679.73,1056.45 675.6,1052.33 671.48,1056.45 667.35,1052.33 671.48,1048.2 667.35,1044.08" fill="#000080" stroke="#000000" stroke-width="1.4" stroke-linejoin="miter"/>
<polygon points="697.77,1039.95 701.9,1044.08 706.02,1039.95 710.15,1044.08 706.02,1048.2 710.15,1052.33 706.02,1056.45 701.9,1052.33 697.77,1056.45 693.65,1052.33 697.77,1048.2 693.65,1044.08" fill="#000080" stroke="#000000" stroke-width="1.4" stroke-linejoin="miter"/>
<polygon points="733.17,1039.95 737.3,1044.08 741.42,1039.95 745.55,1044.08 741.42,1048.2 745.55,1052.33 741.42,1056.45 737.3,1052.33 733.17,1056.45 729.05,1052.33 733.17,1048.2 729.05,1044.08" fill="#000080" stroke="#000000" stroke-width="1.4" stroke-linejoin="miter"/>
<polygon points="727.27,942.75 731.4,946.88 735.52,942.75 739.65,946.88 735.52,951 739.65,955.12 735.52,959.25 731.4,955.12 727.27,959.25 723.15,955.12 727.27,951 723.15,946.88" fill="#0000ff" stroke="#000000" stroke-width="1.4" stroke-linejoin="miter"/>
<polygon points="770.88,943.05 775,947.17 779.12,943.05 783.25,947.17 779.12,951.3 783.25,955.42 779.12,959.55 775,955.42 770.88,959.55 766.75,955.42 770.88,951.3 766.75,947.17" fill="#0000ff" stroke="#000000" stroke-width="1.4" stroke-linejoin="miter"/>
<polygon points="706.98,943.05 711.1,947.17 715.23,943.05 719.35,947.17 715.23,951.3 719.35,955.42 715.23,959.55 711.1,955.42 706.98,959.55 702.85,955.42 706.98,951.3 702.85,947.17" fill="#ff0000" stroke="#000000" stroke-width="1.4" stroke-linejoin="miter"/>
<polygon points="730.08,943.05 734.2,947.17 738.33,943.05 742.45,947.17 738.33,951.3 742.45,955.42 738.33,959.55 734.2,955.42 730.08,959.55 725.95,955.42 730.08,951.3 725.95,947.17" fill="#ff0000" stroke="#000000" stroke-width="1.4" stroke-linejoin="miter"/>
<polygon points="778.58,943.05 782.7,947.17 786.83,943.05 790.95,947.17 786.83,951.3 790.95,955.42 786.83,959.55 782.7,955.42 778.58,959.55 774.45,955.42 778.58,951.3 774.45,947.17" fill="#ff0000" stroke="#000000" stroke-width="1.4" stroke-linejoin="miter"/>
<polygon points="198.4,1538.45 190.15,1521.95 206.65,1521.95" fill="#9999ff" stroke="#000000" stroke-width="1.4" stroke-linejoin="miter"/>
<polygon points="233,1538.45 224.75,1521.95 241.25,1521.95" fill="#9999ff" stroke="#000000" stroke-width="1.4" stroke-linejoin="miter"/>
<polygon points="520.8,1250.65 512.55,1234.15 529.05,1234.15" fill="#008000" stroke="#000000" stroke-width="1.4" stroke-linejoin="miter"/>
<polygon points="568.1,1250.65 559.85,1234.15 576.35,1234.15" fill="#008000" stroke="#000000" stroke-width="1.4" stroke-linejoin="miter"/>
<polygon points="519.3,1250.65 511.05,1234.15 527.55,1234.15" fill="#008000" stroke="#000000" stroke-width="1.4" stroke-linejoin="miter"/>
<polygon points="651.7,1142.75 643.45,1126.25 659.95,1126.25" fill="#000080" stroke="#000000" stroke-width="1.4" stroke-linejoin="miter"/>
<polygon points="675.2,1142.75 666.95,1126.25 683.45,1126.25" fill="#000080" stroke="#000000" stroke-width="1.4" stroke-linejoin="miter"/>
<polygon points="717.3,1142.75 709.05,1126.25 725.55,1126.25" fill="#000080" stroke="#000000" stroke-width="1.4" stroke-linejoin="miter"/>
<polygon points="668.9,1093.85 660.65,1077.35 677.15,1077.35" fill="#0000ff" stroke="#000000" stroke-width="1.4" stroke-linejoin="miter"/>
<polygon points="692.2,1093.85 683.95,1077.35 700.45,1077.35" fill="#0000ff" stroke="#000000" stroke-width="1.4" stroke-linejoin="miter"/>
<polygon points="738.6,1093.85 730.35,1077.35 746.85,1077.35" fill="#0000ff" stroke="#000000" stroke-width="1.4" stroke-linejoin="miter"/>
<polygon points="673.3,1071.65 665.05,1055.15 681.55,1055.15" fill="#ff0000" stroke="#000000" stroke-width="1.4" stroke-linejoin="miter"/>
<polygon points="690.6,1071.65 682.35,1055.15 698.85,1055.15" fill="#ff0000" stroke="#000000" stroke-width="1.4" stroke-linejoin="miter"/>
<polygon points="746.3,1071.65 738.05,1055.15 754.55,1055.15" fill="#ff0000" stroke="#000000" stroke-width="1.4" stroke-linejoin="miter"/>
<polygon points="252.45,1410.4 268.95,1402.15 268.95,1418.65" fill="#9999ff" stroke="#000000" stroke-width="1.4" stroke-linejoin="miter"/>
<polygon points="271.05,1410.4 287.55,1402.15 287.55,1418.65" fill="#9999ff" stroke="#000000" stroke-width="1.4" stroke-linejoin="miter"/>
<polygon points="248.95,1410.4 265.45,1402.15 265.45,1418.65" fill="#9999ff" stroke="#000000" stroke-width="1.4" stroke-linejoin="miter"/>
<polygon points="501.55,1231 518.05,1222.75 518.05,1239.25" fill="#008000" stroke="#000000" stroke-width="1.4" stroke-linejoin="miter"/>
<polygon points="533.75,1231 550.25,1222.75 550.25,1239.25" fill="#008000" stroke="#000000" stroke-width="1.4" stroke-linejoin="miter"/>
<polygon points="499.75,1231 516.25,1222.75 516.25,1239.25" fill="#008000" stroke="#000000" stroke-width="1.4" stroke-linejoin="miter"/>
<polygon points="675.75,1048.8 692.25,1040.55 692.25,1057.05" fill="#000080" stroke="#000000" stroke-width="1.4" stroke-linejoin="miter"/>
<polygon points="698.65,1048.8 715.15,1040.55 715.15,1057.05" fill="#000080" stroke="#000000" stroke-width="1.4" stroke-linejoin="miter"/>
<polygon points="736.55,1048.8 753.05,1040.55 753.05,1057.05" fill="#000080" stroke="#000000" stroke-width="1.4" stroke-linejoin="miter"/>
<polygon points="723.65,931 740.15,922.75 740.15,939.25" fill="#0000ff" stroke="#000000" stroke-width="1.4" stroke-linejoin="miter"/>
<polygon points="747.25,931 763.75,922.75 763.75,939.25" fill="#0000ff" stroke="#000000" stroke-width="1.4" stroke-linejoin="miter"/>
<polygon points="794.95,931 811.45,922.75 811.45,939.25" fill="#0000ff" stroke="#000000" stroke-width="1.4" stroke-linejoin="miter"/>
<polygon points="721.95,934.4 738.45,926.15 738.45,942.65" fill="#ff0000" stroke="#000000" stroke-width="1.4" stroke-linejoin="miter"/>
<polygon points="747.05,934.6 763.55,926.35 763.55,942.85" fill="#ff0000" stroke="#000000" stroke-width="1.4" stroke-linejoin="miter"/>
<polygon points="796.05,934.6 812.55,926.35 812.55,942.85" fill="#ff0000" stroke="#000000" stroke-width="1.4" stroke-linejoin="miter"/>
<text transform="translate(623.46,826.5) scale(1,1.035)" fill="#0000ff">T</text>
<text transform="translate(643.68,833) scale(1,1.035)" fill="#0000ff" font-size="21.6">2</text>
<text x="654.89" y="826.5" fill="#0000ff">(</text>
<text x="665.91" y="826.5" font-style="italic" fill="#0000ff">n</text>
<text x="684.32" y="826.5" font-style="italic" fill="#0000ff" font-size="30.5">π</text>
<text x="706.25" y="826.5" fill="#0000ff">*</text>
<text x="719.13" y="826.5" fill="#0000ff">)</text>
<text transform="translate(579.1,874.8) scale(1,1.035)" fill="#ff0000">S</text>
<path transform="translate(601.17,881.3) scale(0.01055,-0.01055)" d="M763 0L583 0L583 1147Q518 1085 412.5 1023Q307 961 223 930L223 1104Q374 1175 480.5 1270Q587 1365 647 1466L763 1466Z" fill="#ff0000"/>
<text x="612.39" y="874.8" fill="#ff0000">(</text>
<text x="623.41" y="874.8" font-style="italic" fill="#ff0000">n</text>
<text x="641.82" y="874.8" font-style="italic" fill="#ff0000" font-size="30.5">π</text>
<text x="663.75" y="874.8" fill="#ff0000">*</text>
<text x="676.63" y="874.8" fill="#ff0000">)</text>
<text transform="translate(511.66,946.5) scale(1,1.035)" fill="#000080">T</text>
<path transform="translate(531.88,953) scale(0.01055,-0.01055)" d="M763 0L583 0L583 1147Q518 1085 412.5 1023Q307 961 223 930L223 1104Q374 1175 480.5 1270Q587 1365 647 1466L763 1466Z" fill="#000080"/>
<text x="543.09" y="946.5" fill="#000080">(</text>
<text x="554.11" y="946.5" font-style="italic" fill="#000080" font-size="30.5">π</text>
<text x="574.54" y="946.5" font-style="italic" fill="#000080" font-size="30.5">π</text>
<text x="596.48" y="946.5" fill="#000080">*</text>
<text x="609.36" y="946.5" fill="#000080">)</text>
<text transform="translate(411.3,1055) scale(1,1.035)" fill="#008000">S</text>
<text transform="translate(433.37,1061.5) scale(1,1.035)" fill="#008000" font-size="21.6">2</text>
<text x="444.59" y="1055" fill="#008000">(</text>
<text x="455.61" y="1055" font-style="italic" fill="#008000" font-size="30.5">π</text>
<text x="476.04" y="1055" font-style="italic" fill="#008000" font-size="30.5">π</text>
<text x="497.98" y="1055" fill="#008000">*</text>
<text x="510.86" y="1055" fill="#008000">)</text>
<text transform="translate(299.7,1174.5) scale(1,1.035)" fill="#808080">S</text>
<text transform="translate(321.77,1181) scale(1,1.035)" fill="#808080" font-size="21.6">0</text>
<text x="332.99" y="1174.5" fill="#808080">(</text>
<text x="344.01" y="1174.5" font-style="italic" fill="#808080" font-size="30.5">π</text>
<text x="364.44" y="1174.5" font-style="italic" fill="#808080" font-size="30.5">π</text>
<text x="384.88" y="1174.5" fill="#808080">)</text>
<text transform="translate(232.76,1246.5) scale(1,1.035)" fill="#9999ff">T</text>
<text transform="translate(252.98,1253) scale(1,1.035)" fill="#9999ff" font-size="21.6">3</text>
<text x="264.19" y="1246.5" fill="#9999ff">(</text>
<text x="275.21" y="1246.5" font-style="italic" fill="#9999ff" font-size="30.5">π</text>
<text x="295.64" y="1246.5" font-style="italic" fill="#9999ff" font-size="30.5">π</text>
<text x="317.58" y="1246.5" fill="#9999ff">*</text>
<text x="330.46" y="1246.5" fill="#9999ff">)</text>
<rect x="506.6" y="1329.9" width="458.2" height="216.3" rx="6" ry="6" fill="#ffffff" fill-opacity="0.8" stroke="#cccccc" stroke-width="1.6"/>
<text x="655.11" y="1366.1">geometries</text>
<circle cx="531.5" cy="1409.6" r="5.75" fill="#ffffff" stroke="#000000" stroke-width="1.3"/>
<text transform="translate(548,1418.6) scale(1,1.035)">S</text>
<text x="570.57" y="1402.3" font-size="20">*</text>
<text x="571.57" y="1425.1" font-size="21.6">0,min</text>
<polygon points="684.68,1403.85 684.68,1407.68 680.85,1407.68 680.85,1411.52 684.68,1411.52 684.68,1415.35 688.52,1415.35 688.52,1411.52 692.35,1411.52 692.35,1407.68 688.52,1407.68 688.52,1403.85" fill="#ffffff" stroke="#000000" stroke-width="1.3" stroke-linejoin="miter"/>
<text transform="translate(701.9,1418.6) scale(1,1.035)">S</text>
<text x="724.47" y="1402.3" font-size="20">*</text>
<path transform="translate(725.47,1425.1) scale(0.01055,-0.01055)" d="M763 0L583 0L583 1147Q518 1085 412.5 1023Q307 961 223 930L223 1104Q374 1175 480.5 1270Q587 1365 647 1466L763 1466Z" fill="#000000"/>
<text x="737.49" y="1425.1" font-size="21.6">,min</text>
<polygon points="842.1,1403.85 836.35,1415.35 847.85,1415.35" fill="#ffffff" stroke="#000000" stroke-width="1.3" stroke-linejoin="miter"/>
<text transform="translate(854.8,1418.6) scale(1,1.035)">S</text>
<text x="877.37" y="1402.3" font-size="20">*</text>
<text x="878.37" y="1425.1" font-size="21.6">2,min</text>
<polygon points="537.25,1462.6 525.75,1456.85 525.75,1468.35" fill="#ffffff" stroke="#000000" stroke-width="1.3" stroke-linejoin="miter"/>
<text transform="translate(548.76,1470.6) scale(1,1.035)">T</text>
<text x="569.48" y="1454.3" font-size="20">*</text>
<path transform="translate(570.48,1477.1) scale(0.01055,-0.01055)" d="M763 0L583 0L583 1147Q518 1085 412.5 1023Q307 961 223 930L223 1104Q374 1175 480.5 1270Q587 1365 647 1466L763 1466Z" fill="#000000"/>
<text x="582.49" y="1477.1" font-size="21.6">,min</text>
<polygon points="680.85,1456.85 692.35,1456.85 692.35,1468.35 680.85,1468.35" fill="#ffffff" stroke="#000000" stroke-width="1.3" stroke-linejoin="miter"/>
<text transform="translate(702.66,1470.6) scale(1,1.035)">T</text>
<text x="723.38" y="1454.3" font-size="20">*</text>
<text x="724.38" y="1477.1" font-size="21.6">2,min</text>
<polygon points="842.1,1454.47 850.23,1462.6 842.1,1470.73 833.97,1462.6" fill="#ffffff" stroke="#000000" stroke-width="1.3" stroke-linejoin="miter"/>
<text transform="translate(855.56,1470.6) scale(1,1.035)">T</text>
<text x="876.28" y="1454.3" font-size="20">*</text>
<text x="877.28" y="1477.1" font-size="21.6">3,min</text>
<polygon points="528.62,1504.85 531.5,1507.72 534.38,1504.85 537.25,1507.72 534.38,1510.6 537.25,1513.47 534.38,1516.35 531.5,1513.47 528.62,1516.35 525.75,1513.47 528.62,1510.6 525.75,1507.72" fill="#ffffff" stroke="#000000" stroke-width="1.3" stroke-linejoin="miter"/>
<text transform="translate(548,1519.6) scale(1,1.035)">S</text>
<path transform="translate(570.07,1526.1) scale(0.01055,-0.01055)" d="M763 0L583 0L583 1147Q518 1085 412.5 1023Q307 961 223 930L223 1104Q374 1175 480.5 1270Q587 1365 647 1466L763 1466Z" fill="#000000"/>
<text x="582.09" y="1526.1" font-size="21.6">,min</text>
<polygon points="686.6,1516.35 680.85,1504.85 692.35,1504.85" fill="#ffffff" stroke="#000000" stroke-width="1.3" stroke-linejoin="miter"/>
<text transform="translate(701.9,1519.6) scale(1,1.035)">S</text>
<text x="723.97" y="1526.1" font-size="21.6">2,min</text>
<polygon points="836.35,1510.6 847.85,1504.85 847.85,1516.35" fill="#ffffff" stroke="#000000" stroke-width="1.3" stroke-linejoin="miter"/>
<text transform="translate(855.56,1519.6) scale(1,1.035)">T</text>
<path transform="translate(875.78,1526.1) scale(0.01055,-0.01055)" d="M763 0L583 0L583 1147Q518 1085 412.5 1023Q307 961 223 930L223 1104Q374 1175 480.5 1270Q587 1365 647 1466L763 1466Z" fill="#000000"/>
<text x="887.79" y="1526.1" font-size="21.6">,min</text>
<line x1="161.4" y1="773.5" x2="161.4" y2="1567.3" stroke="#000000" stroke-width="2.1"/>
<line x1="977.1" y1="773.5" x2="977.1" y2="1567.3" stroke="#000000" stroke-width="2.1"/>
<line x1="160.4" y1="774.5" x2="978.1" y2="774.5" stroke="#000000" stroke-width="2.1"/>
<line x1="160.4" y1="1566.3" x2="978.1" y2="1566.3" stroke="#000000" stroke-width="2.1"/>
<line x1="150.4" y1="1533.6" x2="161.4" y2="1533.6" stroke="#000000" stroke-width="2.1"/>
<text transform="translate(131.4,1547.8) scale(1,1.035)" text-anchor="end">0.0</text>
<line x1="150.4" y1="1392.32" x2="161.4" y2="1392.32" stroke="#000000" stroke-width="2.1"/>
<text transform="translate(85.39,1406.52) scale(1,1.035)">0.</text>
<path transform="translate(112.99,1406.52) scale(0.01616,-0.01616)" d="M763 0L583 0L583 1147Q518 1085 412.5 1023Q307 961 223 930L223 1104Q374 1175 480.5 1270Q587 1365 647 1466L763 1466Z" fill="#000000"/>
<line x1="150.4" y1="1251.04" x2="161.4" y2="1251.04" stroke="#000000" stroke-width="2.1"/>
<text transform="translate(131.4,1265.24) scale(1,1.035)" text-anchor="end">0.2</text>
<line x1="150.4" y1="1109.76" x2="161.4" y2="1109.76" stroke="#000000" stroke-width="2.1"/>
<text transform="translate(131.4,1123.96) scale(1,1.035)" text-anchor="end">0.3</text>
<line x1="150.4" y1="968.48" x2="161.4" y2="968.48" stroke="#000000" stroke-width="2.1"/>
<text transform="translate(131.4,982.68) scale(1,1.035)" text-anchor="end">0.4</text>
<line x1="150.4" y1="827.2" x2="161.4" y2="827.2" stroke="#000000" stroke-width="2.1"/>
<text transform="translate(131.4,841.4) scale(1,1.035)" text-anchor="end">0.5</text>
<line x1="240.6" y1="1566.3" x2="240.6" y2="1577.8" stroke="#000000" stroke-width="2.1"/>
<text transform="translate(240.9,1616.2) scale(1,1.035)" text-anchor="middle">−2</text>
<line x1="352.25" y1="1566.3" x2="352.25" y2="1577.8" stroke="#000000" stroke-width="2.1"/>
<text transform="translate(334.98,1616.2) scale(1,1.035)">−</text>
<path transform="translate(354.31,1616.2) scale(0.01616,-0.01616)" d="M763 0L583 0L583 1147Q518 1085 412.5 1023Q307 961 223 930L223 1104Q374 1175 480.5 1270Q587 1365 647 1466L763 1466Z" fill="#000000"/>
<line x1="463.9" y1="1566.3" x2="463.9" y2="1577.8" stroke="#000000" stroke-width="2.1"/>
<text transform="translate(463.9,1616.2) scale(1,1.035)" text-anchor="middle">0</text>
<line x1="575.55" y1="1566.3" x2="575.55" y2="1577.8" stroke="#000000" stroke-width="2.1"/>
<path transform="translate(566.35,1616.2) scale(0.01616,-0.01616)" d="M763 0L583 0L583 1147Q518 1085 412.5 1023Q307 961 223 930L223 1104Q374 1175 480.5 1270Q587 1365 647 1466L763 1466Z" fill="#000000"/>
<line x1="687.2" y1="1566.3" x2="687.2" y2="1577.8" stroke="#000000" stroke-width="2.1"/>
<text transform="translate(687.2,1616.2) scale(1,1.035)" text-anchor="middle">2</text>
<line x1="798.85" y1="1566.3" x2="798.85" y2="1577.8" stroke="#000000" stroke-width="2.1"/>
<text transform="translate(798.85,1616.2) scale(1,1.035)" text-anchor="middle">3</text>
<line x1="910.5" y1="1566.3" x2="910.5" y2="1577.8" stroke="#000000" stroke-width="2.1"/>
<text transform="translate(910.5,1616.2) scale(1,1.035)" text-anchor="middle">4</text>
<text x="195.12" y="838.9" font-weight="bold">b</text>
<text x="577.3" y="1674.8" text-anchor="middle">excited state chemical shift (eV)</text>
<text transform="translate(24.4,1199.2) rotate(-90)" text-anchor="middle">charge on the S atom (<tspan font-style="italic">e</tspan>)</text>
</svg>
</body></html>
